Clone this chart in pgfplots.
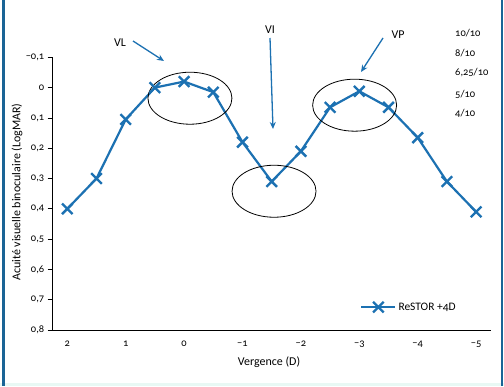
\documentclass[border=0pt]{standalone}
\usepackage{fontspec}
\setmainfont{Carlito}[Numbers=OldStyle]
\usepackage{pgfplots}
\pgfplotsset{compat=1.18}
\usetikzlibrary{arrows.meta}
\definecolor{lineblue}{RGB}{28,113,178}
\definecolor{frameblue}{RGB}{26,100,150}
\definecolor{stripcyan}{RGB}{232,248,244}
\begin{document}
\begin{tikzpicture}
\begin{scope}[x=1bp,y=-1bp,shift={(0bp,386bp)}]
\path[use as bounding box] (0,0) rectangle (504,386);
\fill[white] (0,0) rectangle (504,386);
\fill[stripcyan] (0,383) rectangle (504,386);
\fill[frameblue] (2,0) rectangle (4.5,386);
\fill[frameblue] (500.5,0) rectangle (503,386);
\end{scope}
\begin{axis}[
  at={(52.7bp,56bp)}, anchor=south west, scale only axis,
  width=438bp, height=272.7bp,
  x dir=reverse, y dir=reverse,
  xmin=-5.25, xmax=2.25, ymin=-0.1, ymax=0.8,
  axis x line=bottom, axis y line=left,
  axis line style={black, line width=0.8pt, -},
  tick align=outside,
  /pgf/number format/assume math mode=true,
  xtick={2,1,0,-1,-2,-3,-4,-5},
  xticklabels={2,1,0,−1,−2,−3,−4,−5},
  xtick style={draw=none},
  xticklabel style={yshift=-2bp},
  minor xtick={2.25,1.75,1.25,0.75,0.25,-0.25,-0.75,-1.25,-1.75,-2.25,-2.75,-3.25,-3.75,-4.25,-4.75,-5.25},
  minor tick length=7bp,
  minor tick style={black, line width=0.8pt},
  ytick={-0.1,0,0.1,0.2,0.3,0.4,0.5,0.6,0.7,0.8},
  yticklabels={{−0,1},{0},{0,1},{0,2},{0,3},{0,4},{0,5},{0,6},{0,7},{0,8}},
  major tick length=5bp,
  ytick style={black, line width=0.8pt},
  tick label style={font=\fontsize{10.5}{12}\selectfont},
  xlabel={Vergence (D)},
  ylabel={Acuité visuelle binoculaire (LogMAR)},
  label style={font=\fontsize{12}{14}\selectfont},
  xlabel style={at={(axis description cs:0.494,-0.117)}, anchor=center},
  ylabel style={at={(axis description cs:-0.0815,0.506)}, anchor=center},
  legend style={draw=none, fill=none, at={(0.695,0.084)}, anchor=west, font=\fontsize{11.5}{13}\selectfont},
  legend image code/.code={\draw[mark repeat=2,mark phase=2,#1] plot coordinates {(0cm,0cm) (0.6cm,0cm) (1.2cm,0cm)};},
  clip=false,
]
\addplot[color=lineblue, line width=2.2bp, mark=x, mark size=7.5bp, mark options={line width=2.4bp}] coordinates {
(2,0.40) (1.5,0.30) (1,0.105) (0.5,0.0) (0,-0.02) (-0.5,0.015) (-1,0.18) (-1.5,0.31) (-2,0.21) (-2.5,0.065) (-3,0.012) (-3.5,0.065) (-4,0.165) (-4.5,0.31) (-5,0.41)
};
\addlegendentry{ReSTOR +4D}
\draw[black, line width=0.8pt] (axis cs:-0.1,0.035) ellipse [x radius=42bp, y radius=26bp];
\draw[black, line width=0.8pt] (axis cs:-1.54,0.342) ellipse [x radius=42bp, y radius=26bp];
\draw[black, line width=0.8pt] (axis cs:-2.92,0.058) ellipse [x radius=42bp, y radius=26bp];
\end{axis}
\begin{scope}[x=1bp,y=-1bp,shift={(0bp,386bp)}, font=\fontsize{12}{14}\selectfont]
\node at (120,43) {VL};
\draw[lineblue, line width=1.3bp, -{Stealth[length=7bp,width=6bp]}] (133,41) -- (164,61);
\node at (270,30) {VI};
\draw[lineblue, line width=1.3bp, -{Stealth[length=7bp,width=6bp]}] (270,38) -- (273,129);
\node at (398,35) {VP};
\draw[lineblue, line width=1.3bp, -{Stealth[length=7bp,width=6bp]}] (383,38) -- (361,72);
\begin{scope}[font=\fontsize{10.5}{12}\selectfont]
\node[anchor=west, inner sep=0pt] at (455,33) {10/10};
\node[anchor=west, inner sep=0pt] at (455,53) {8/10};
\node[anchor=west, inner sep=0pt] at (455,73) {6,25/10};
\node[anchor=west, inner sep=0pt] at (455,94) {5/10};
\node[anchor=west, inner sep=0pt] at (455,113) {4/10};
\end{scope}
\end{scope}
\end{tikzpicture}
\end{document}
